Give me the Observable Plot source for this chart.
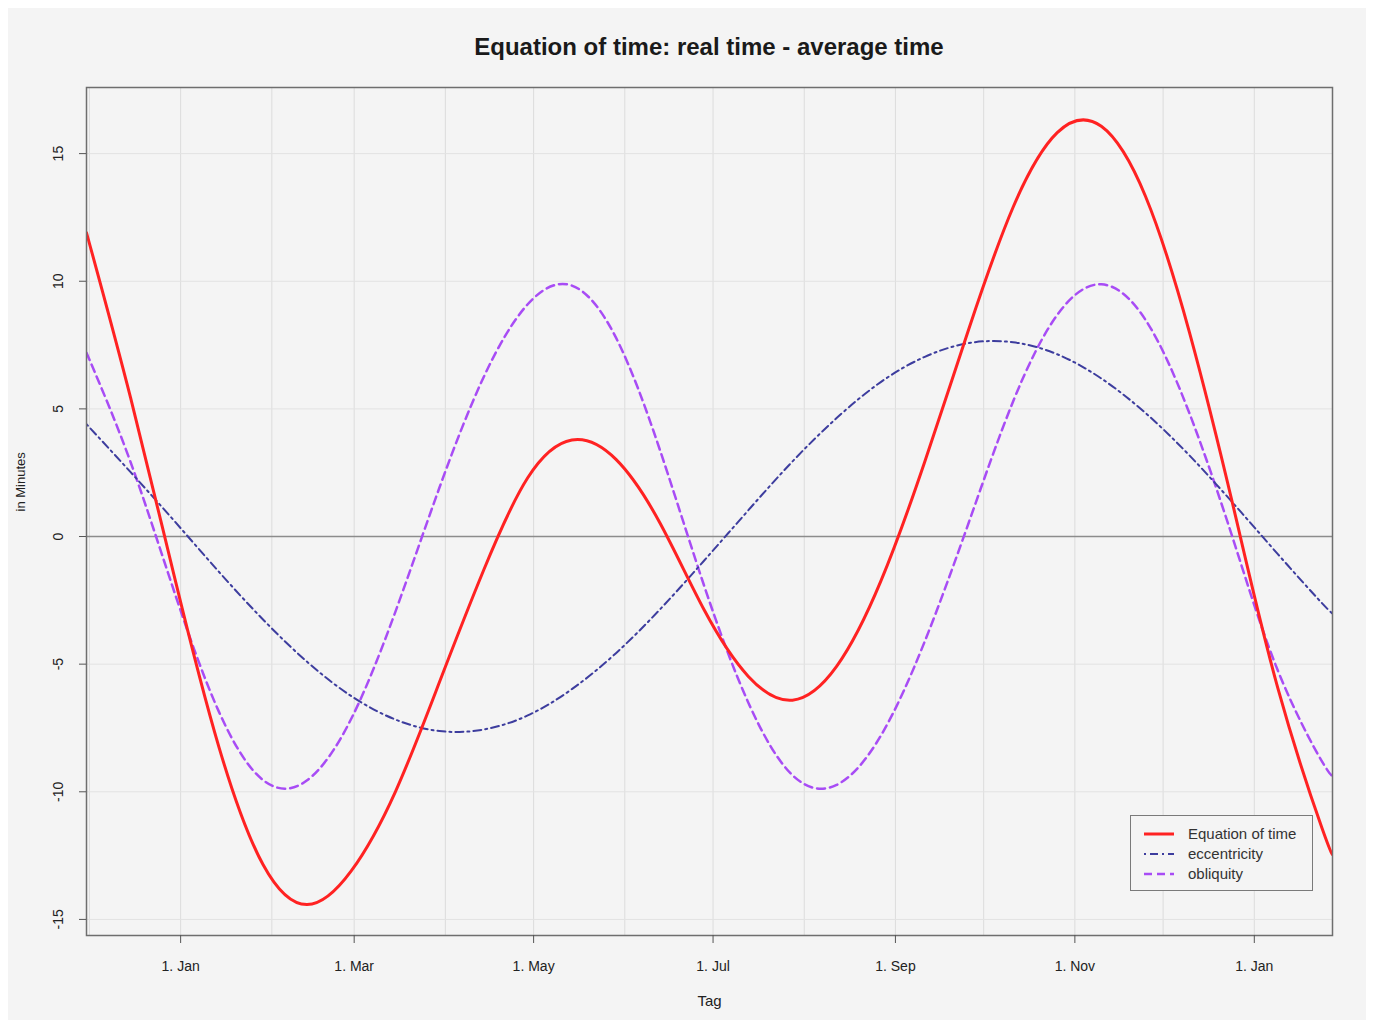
<!DOCTYPE html>
<html>
<head>
<meta charset="utf-8">
<script src="https://cdn.jsdelivr.net/npm/d3@7"></script>
<script src="https://cdn.jsdelivr.net/npm/@observablehq/plot@0.6"></script>
<style>
  html, body { margin: 0; padding: 0; background: #ffffff; }
  body { width: 1374px; height: 1025px; position: relative; overflow: hidden;
         font-family: "Liberation Sans", Arial, Helvetica, sans-serif; }
  #panel { position: absolute; left: 8px; top: 8px; width: 1358px; height: 1012px; background: #f4f4f4; }
  #title { position: absolute; left: 86px; width: 1246px; top: 33px; text-align: center;
           font-weight: bold; font-size: 24px; color: #1a1a1a; }
  #chart { position: absolute; left: 0; top: 70px; }
  #legend { position: absolute; left: 1130px; top: 815px; width: 183px; height: 76px;
            border: 1.5px solid #7a7a7a; background: #f4f4f4; box-sizing: border-box; }
  .item { position: absolute; left: 0; height: 20px; width: 180px; }
  .item svg { position: absolute; left: 12px; top: 0; }
  .item span { position: absolute; left: 57px; top: 1px; font-size: 15px; color: #333; white-space: nowrap; }
</style>
</head>
<body>
<div id="panel"></div>
<div id="title">Equation of time: real time - average time</div>
<div id="chart"></div>
<div id="legend"></div>
<script>
// ---- data ----
const dates = [
  "2014-11-30","2014-12-15","2014-12-30","2015-01-14","2015-01-29","2015-02-13",
  "2015-02-28","2015-03-15","2015-03-30","2015-04-14","2015-04-29","2015-05-14",
  "2015-05-29","2015-06-13","2015-06-28","2015-07-13","2015-07-28","2015-08-12",
  "2015-08-27","2015-09-11","2015-09-26","2015-10-11","2015-10-26",
  "2015-11-10","2015-11-25","2015-12-10","2015-12-25","2016-01-09","2016-01-24",
  "2016-01-28"
];
const equationOfTime = [
  11.9, 5.43, -1.63, -8.24, -12.85, -14.42,
  -13.1, -10.0, -5.70, -1.32, 2.3, 3.78,
  3.02, 0.52, -2.88, -5.48, -6.41, -5.09,
  -1.76, 2.94, 8.15, 12.90, 15.82,
  16.07, 13.33, 7.98, 1.10, -5.94, -11.42,
  -12.5
];
const eccentricity = [
  4.4, 2.52, 0.59, -1.38, -3.25, -4.91,
  -6.25, -7.17, -7.62, -7.56, -7.01, -5.98,
  -4.57, -2.85, -0.94, 1.03, 2.94, 4.64,
  6.05, 7.04, 7.58, 7.61, 7.14,
  6.19, 4.84, 3.17, 1.28, -0.69, -2.61,
  -3.04
];
const obliquity = [
  7.2, 2.91, -2.22, -6.86, -9.54, -9.55,
  -7.14, -2.95, 1.92, 6.24, 9.10, 9.83,
  7.79, 3.37, -1.94, -6.51, -9.35, -9.73,
  -7.81, -4.10, 0.57, 5.29, 8.68,
  9.88, 8.49, 4.81, -0.18, -5.25, -8.81,
  -9.34
];
const xTickDates = ["2015-01-01","2015-03-01","2015-05-01","2015-07-01","2015-09-01","2015-11-01","2016-01-01"];
const xTickLabels = ["1. Jan","1. Mar","1. May","1. Jul","1. Sep","1. Nov","1. Jan"];
const yTicks = [-15, -10, -5, 0, 5, 10, 15];
const seriesNames = ["Equation of time", "eccentricity", "obliquity"];
const xDomain = ["2014-11-30", "2016-01-27T14:00"];
const yDomain = [-15.63, 17.59];

// ---- styles ----
const colRed = "#ff2222", colBlue = "#3d3d9e", colPurple = "#a84cf5";
const styles = [
  {stroke: colRed, strokeWidth: 3, dash: null},
  {stroke: colBlue, strokeWidth: 2, dash: "2,4,8,4"},
  {stroke: colPurple, strokeWidth: 2.5, dash: "8,5"}
];

const parse = s => new Date(s.length > 10 ? s + "Z" : s + "T00:00Z");
const rows = dates.map((d, i) => ({
  date: parse(d), eot: equationOfTime[i], ecc: eccentricity[i], obl: obliquity[i]
}));
const tickMap = new Map(xTickDates.map((d, i) => [+parse(d), xTickLabels[i]]));
const xStart = parse(xDomain[0]);
const monthGrid = d3.utcMonth.range(parse("2014-12-01"), parse("2016-01-02"));

const chart = Plot.plot({
  width: 1374,
  height: 950,
  marginLeft: 86,
  marginRight: 42,
  marginTop: 17,
  marginBottom: 85,
  style: {background: "transparent", fontFamily: "'Liberation Sans', Arial, sans-serif", fontSize: "14px", color: "#222"},
  x: {type: "utc", domain: xDomain.map(parse)},
  y: {domain: yDomain},
  marks: [
    Plot.gridX(monthGrid, {stroke: "#dcdcdc", strokeOpacity: 1, strokeWidth: 1}),
    Plot.gridY([-15, -10, -5, 5, 10, 15], {stroke: "#e2e2e2", strokeOpacity: 1, strokeWidth: 1}),
    Plot.ruleY([0], {stroke: "#8c8c8c", strokeWidth: 1.5}),
    Plot.line(rows, {x: "date", y: "obl", stroke: styles[2].stroke, strokeWidth: styles[2].strokeWidth, strokeDasharray: styles[2].dash, curve: "natural", clip: true}),
    Plot.line(rows, {x: "date", y: "ecc", stroke: styles[1].stroke, strokeWidth: styles[1].strokeWidth, strokeDasharray: styles[1].dash, curve: "natural", clip: true}),
    Plot.line(rows, {x: "date", y: "eot", stroke: styles[0].stroke, strokeWidth: styles[0].strokeWidth, curve: "natural", clip: true}),
    Plot.frame({stroke: "#6e6e6e", strokeWidth: 1.5}),
    Plot.axisX(xTickDates.map(parse), {tickSize: 8, tickPadding: 18, tickFormat: d => tickMap.get(+d), label: null, stroke: "#555"}),
    Plot.axisY(yTicks, {tickSize: 7, tickFormat: () => "", label: null, stroke: "#555"}),
    Plot.text(yTicks, {x: () => xStart, y: d => d, text: d => String(d), rotate: -90, dx: -28, fontSize: 14, fill: "#222"}),
    Plot.text(["Tag"], {frameAnchor: "bottom", dy: 70, fontSize: 15, fill: "#222"}),
    Plot.text(["in Minutes"], {frameAnchor: "left", dx: -66, rotate: -90, fontSize: 13, fill: "#222"})
  ]
});
document.getElementById("chart").appendChild(chart);

// legend
const legend = document.getElementById("legend");
seriesNames.forEach((name, i) => {
  const item = document.createElement("div");
  item.className = "item";
  item.style.top = (8 + i * 20) + "px";
  const s = styles[i];
  item.innerHTML = `<svg width="32" height="20"><line x1="1" y1="10" x2="31" y2="10" stroke="${s.stroke}" stroke-width="${s.strokeWidth}" ${s.dash ? `stroke-dasharray="${s.dash}"` : ""}/></svg><span>${name}</span>`;
  legend.appendChild(item);
});
</script>
</body>
</html>
